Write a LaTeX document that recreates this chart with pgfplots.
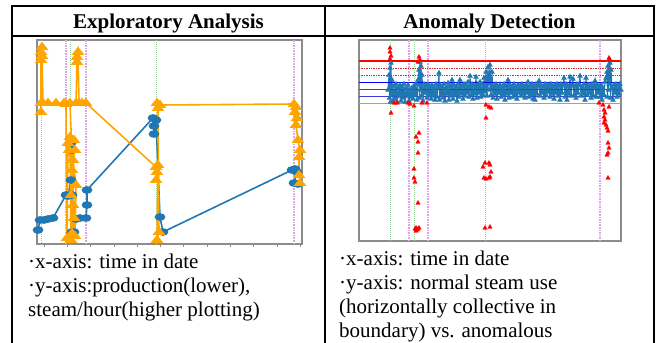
\documentclass[border=0pt]{standalone}
\usepackage{fontspec}
\setmainfont{Liberation Serif}
\usepackage{pgfplots}
\pgfplotsset{compat=1.18}
\definecolor{framegray}{RGB}{140,140,140}
\definecolor{mplblue}{RGB}{31,119,180}
\definecolor{mplorange}{RGB}{255,165,0}
\definecolor{vgreen}{RGB}{150,205,150}
\definecolor{vpink}{RGB}{225,160,235}
\definecolor{dotred}{RGB}{200,50,50}
\definecolor{midblue}{RGB}{60,60,215}
\definecolor{lightblue}{RGB}{150,150,235}
\begin{document}
\begin{tikzpicture}
\useasboundingbox (0,0) rectangle (656bp,-343bp);
\begin{scope}[x=1bp,y=-1bp]
\draw[line width=1.3bp] (12,343) -- (12,6) -- (654,6) -- (654,343);
\draw[line width=1.3bp] (12,36) -- (654,36);
\draw[line width=1.3bp] (325,6) -- (325,343);
\node[font=\bfseries\fontsize{21bp}{24bp}\selectfont, anchor=base, inner sep=0pt] at (168.5,28.5) {Exploratory Analysis};
\node[font=\bfseries\fontsize{21bp}{24bp}\selectfont, anchor=base, inner sep=0pt] at (489.5,28.5) {Anomaly Detection};
\node[font=\fontsize{21bp}{24bp}\selectfont, anchor=base west, inner sep=0pt] at (28,268) {·x-axis: time in date};
\node[font=\fontsize{21bp}{24bp}\selectfont, anchor=base west, inner sep=0pt] at (28,292.5) {·y-axis:production(lower),};
\node[font=\fontsize{21bp}{24bp}\selectfont, anchor=base west, inner sep=0pt] at (28,316.5) {steam/hour(higher plotting)};
\node[font=\fontsize{21bp}{24bp}\selectfont, anchor=base west, inner sep=0pt] at (339,265) {·x-axis: time in date};
\node[font=\fontsize{21bp}{24bp}\selectfont, anchor=base west, inner sep=0pt] at (339,289) {·y-axis: normal steam use};
\node[font=\fontsize{21bp}{24bp}\selectfont, anchor=base west, inner sep=0pt] at (339,313) {(horizontally collective in};
\node[font=\fontsize{21bp}{24bp}\selectfont, anchor=base west, inner sep=0pt] at (339,337) {boundary) vs. anomalous};
\end{scope}

% ---------------- left plot ----------------
\begin{axis}[at={(169.5bp,-142bp)}, anchor=center,
  width=265bp, height=204bp, scale only axis,
  xmin=37, xmax=302, ymin=40, ymax=244, y dir=reverse,
  axis line style={framegray, line width=2bp},
  xtick={44,67.3,90.6,113.9,137.2,160.5,183.8,207.1,230.4,253.7,277,300.3},
  xticklabels={}, ytick=\empty,
  xtick pos=bottom, tick align=outside, major tick length=3bp,
  tick style={framegray, line width=0.8bp}]
\addplot[vgreen, densely dotted, line width=1bp] coordinates {(41,40) (41,244)};
\addplot[vgreen, densely dotted, line width=1bp] coordinates {(70,40) (70,244)};
\addplot[vgreen, densely dotted, line width=1bp] coordinates {(156,40) (156,244)};
\addplot[vpink, densely dotted, line width=1.6bp] coordinates {(66,40) (66,244)};
\addplot[vpink, densely dotted, line width=1.6bp] coordinates {(86,40) (86,244)};
\addplot[vpink, densely dotted, line width=1.6bp] coordinates {(294,40) (294,244)};
\addplot[mplblue, line width=1.6bp, mark=*, mark size=3bp, mark options={xscale=1.5, solid}] coordinates {
(38,230) (40,220) (44,220) (48,219) (53,218) (66,195) (68,196) (71,180) (71,143) (72,150)
(72,232) (72,195) (74,232) (76,219) (80,218) (86,218) (87,205) (87,190) (153,118) (154,126)
(154,134) (156,120) (160,217) (163,232) (292,170) (295,169) (297,172) (294,183) (298,184)
};
\addplot[mplorange, line width=1.6bp, mark=triangle*, mark size=4bp, mark options={xscale=1.35, solid}] coordinates {
(41,112) (41,103) (41,60) (41,52) (42,47) (42,56) (43,103) (48,103) (56,103) (64,103)
(66,104) (67,238) (68,143) (69,150) (70,137) (71,240) (72,170) (71,195) (73,205) (74,218)
(72,233) (74,140) (75,150) (73,160) (76,185) (75,236) (70,103) (76,103) (77,62) (77,57) (78,52) (79,103) (82,103) (86,103) (156,167)
(157,172) (156,180) (158,165) (157,240) (159,232) (158,108) (157,103) (160,105) (294,104) (296,107)
(295,112) (297,118) (296,125) (298,140) (300,150) (299,157) (299,175) (300,183)
};
\end{axis}

% ---------------- right plot ----------------
\begin{axis}[at={(490bp,-140.5bp)}, anchor=center,
  width=262bp, height=201bp, scale only axis,
  xmin=359, xmax=621, ymin=40, ymax=241, y dir=reverse,
  axis line style={framegray, line width=2bp},
  xtick=\empty, ytick=\empty]
\addplot[vgreen, densely dotted, line width=1bp] coordinates {(390,40) (390,241)};
\addplot[vgreen, densely dotted, line width=1bp] coordinates {(414,40) (414,241)};
\addplot[vgreen, densely dotted, line width=1bp] coordinates {(485,40) (485,241)};
\addplot[vpink, densely dotted, line width=1.6bp] coordinates {(409,40) (409,241)};
\addplot[vpink, densely dotted, line width=1.6bp] coordinates {(428,40) (428,241)};
\addplot[vpink, densely dotted, line width=1.6bp] coordinates {(600,40) (600,241)};
\addplot[mplblue, line width=1.1bp, mark=triangle*, mark size=2.2bp, mark options={solid}] coordinates {
(388,90) (389,75) (389.5,98) (390,68) (390.5,102) (391,63) (391.5,95) (392,80) (393,101) (394,86)
(395,99) (396,84) (397,102) (398,88) (399,96) (400,85) (401,101) (402,87) (403,98) (404,84)
(405,102) (406,89) (407,96) (408,85) (409,101) (410,90) (411,97) (412,88) (413,99) (414,86)
(415,95) (416,84) (417,100) (418,80) (419,70) (419.5,98) (420,62) (420.5,90) (421,66) (421.5,96)
(422,75) (423,101) (424,84) (425,93) (426,86) (427,98) (428,84) (429,95) (430,87) (431,99)
(432,85) (433,96) (434,88) (435,100) (436,84) (437,97) (438,86) (439,73) (439.5,100) (440,85)
(441,95) (442,87) (443,98) (444,84) (445,101) (446,88) (447,94) (448,83) (449,100) (450,86)
(451,96) (452,80) (453,99) (454,85) (455,95) (456,87) (457,101) (458,84) (459,97) (460,80)
(461,94) (462,86) (463,99) (464,84) (465,96) (466,85) (467,93) (468,82) (469,97) (470,76)
(471,95) (472,84) (473,99) (474,86) (475,94) (476,77) (477,98) (478,85) (479,93) (480,82)
(481,97) (482,84) (483,95) (484,78) (485,92) (486,72) (487,96) (488,67) (489,90) (490,65)
(491,95) (492,72) (493,98) (494,86) (495,94) (496,84) (497,99) (498,87) (499,93) (500,85)
(501,97) (502,88) (503,95) (504,84) (505,100) (506,86) (507,94) (508,80) (509,98) (510,85)
(511,93) (512,87) (513,97) (514,84) (515,95) (516,88) (517,99) (518,85) (519,93) (520,86)
(521,96) (522,84) (523,94) (524,87) (525,98) (526,85) (527,93) (528,82) (529,97) (530,86)
(531,95) (532,84) (533,99) (534,87) (535,100) (536,84) (537,94) (538,86) (539,81) (540,96)
(541,85) (542,93) (543,87) (544,98) (545,84) (546,95) (547,86) (548,92) (549,85) (550,97)
(551,84) (552,94) (553,87) (554,99) (555,85) (556,93) (557,84) (558,96) (559,86) (560,100)
(561,84) (562,93) (563,85) (564,78) (565,97) (566,84) (567,100) (568,86) (569,94) (570,77)
(571,96) (572,85) (573,79) (574,95) (575,86) (576,98) (577,84) (578,93) (579,85) (580,76)
(581,96) (582,87) (583,94) (584,84) (585,100) (586,78) (587,95) (588,85) (589,93) (590,86)
(591,98) (592,84) (593,95) (594,87) (595,81) (596,97) (597,85) (598,93) (599,86) (600,97)
(601,85) (602,100) (603,88) (604,95) (605,82) (606,78) (607,72) (607.5,97) (608,66) (608.5,90)
(609,60) (609.5,84) (610,63) (610.5,98) (611,70) (612,88) (613,100) (614,85) (615,93) (616,84)
(617,97) (618,86) (619,94) (620,84) (621,90)
};
\addplot[red, line width=1.2bp] coordinates {(359,61) (621,61)};
\addplot[dotred, densely dotted, line width=0.7bp] coordinates {(359,68) (621,68)};
\addplot[dotred, densely dotted, line width=0.7bp] coordinates {(359,75) (621,75)};
\addplot[blue, line width=1.6bp] coordinates {(359,82.5) (621,82.5)};
\addplot[midblue, line width=0.9bp] coordinates {(359,89) (621,89)};
\addplot[midblue, line width=0.9bp] coordinates {(359,96) (621,96)};
\addplot[lightblue, line width=0.9bp] coordinates {(359,103) (621,103)};
\addplot[only marks, red, mark=triangle*, mark size=2.5bp] coordinates {
(390,48) (390,52) (391,56) (390,59) (394,103) (397,103) (391,113)
(408,103) (410,104) (414,106) (419,57) (420,60) (418,62) (422,103) (427,103)
(419,133) (416,137) (418,142) (418,153) (414,169) (414,178) (415,182) (418,203)
(415,229) (416,228) (417,230) (418,229) (416,231) (419,228)
(486,105) (489,107) (491,108) (486,118) (485,163) (489,163) (490,165) (483,167) (491,172)
(490,177) (484,178) (486,179) (489,178) (485,228) (490,227)
(599,103) (603,105) (609,107) (604,110) (605,113) (604,117) (605,120) (604,123) (606,125)
(607,128) (608,131) (608,143) (609,148) (607,155) (608,153) (608,178) (609,58) (610,60)
};
\end{axis}
\end{tikzpicture}
\end{document}
